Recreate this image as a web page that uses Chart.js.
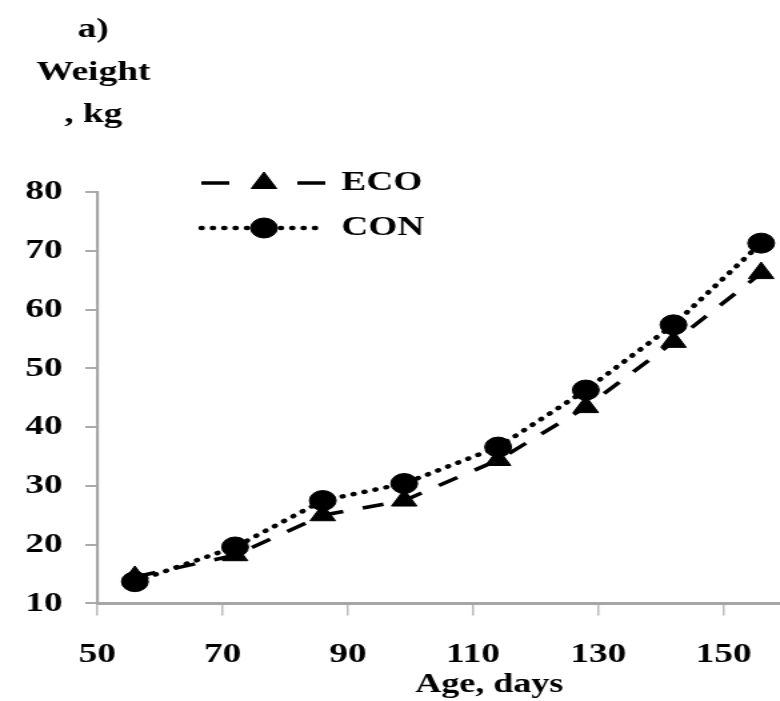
<!DOCTYPE html>
<html>
<head>
<meta charset="utf-8">
<script src="https://cdn.jsdelivr.net/npm/chart.js@4"></script>
<style>
  html, body { margin: 0; padding: 0; background: #fff; overflow: hidden; }
  /* the source figure is stretched sideways, so the chart is drawn narrow and widened */
  #wrap { width: 585px; height: 701px; transform: scaleX(1.3333); transform-origin: 0 0; }
  #weight-chart { display: block; }
</style>
</head>
<body>
<div id="wrap"><canvas id="weight-chart" width="585" height="701"></canvas></div>
<script>
const ageDays = [56, 72, 86, 99, 114, 128, 142, 156];
const ecoWeight = [14.5, 18.2, 25, 27.5, 34.4, 43.4, 54.5, 66.2];
const conWeight = [13.7, 19.6, 27.5, 30.4, 36.6, 46.3, 57.4, 71.3];
const xTicks = [50, 70, 90, 110, 130, 150];
const yTicks = [10, 20, 30, 40, 50, 60, 70, 80];
const seriesNames = ["ECO", "CON"];
const yTitleLines = ["a)", "Weight", ", kg"];
const xTitle = "Age, days";

const serif = "'Liberation Serif', 'Times New Roman', serif";

function toPoints(values) {
  return ageDays.map((d, i) => ({ x: d, y: values[i] }));
}

// legend line samples: dash pattern used only in the key
const legendDash = [[21, 51], [0.5, 8]];

const decorPlugin = {
  id: "decor",
  afterDraw(chart) {
    const ctx = chart.ctx;
    const area = chart.chartArea;
    ctx.save();
    ctx.fillStyle = "#000";

    // axis title above the y axis
    ctx.font = "bold 28px " + serif;
    ctx.textAlign = "center";
    ctx.textBaseline = "alphabetic";
    const tx = area.left - 3;
    [37, 80, 122].forEach((y, i) => ctx.fillText(yTitleLines[i], tx, y));

    // x axis title
    ctx.font = "bold 27px " + serif;
    ctx.fillText(xTitle, (area.left + area.right) / 2 + 38, 692);

    // legend: line sample, marker, label
    const rows = [183, 228];
    chart.data.datasets.forEach((ds, i) => {
      const y = rows[i];
      ctx.save();
      ctx.strokeStyle = ds.borderColor;
      ctx.lineWidth = ds.borderWidth;
      ctx.lineCap = ds.borderCapStyle || "butt";
      ctx.setLineDash(legendDash[i]);
      ctx.beginPath();
      ctx.moveTo(151, y);
      ctx.lineTo(i === 0 ? 244 : 238, y);
      ctx.stroke();
      ctx.restore();

      ctx.fillStyle = ds.pointBackgroundColor;
      ctx.strokeStyle = ds.pointBorderColor;
      Chart.helpers.drawPoint(ctx, {
        pointStyle: ds.pointStyle,
        radius: ds.pointRadius,
        rotation: 0,
        borderWidth: 1
      }, 198, y);

      ctx.fillStyle = "#000";
      ctx.font = "bold 28px " + serif;
      ctx.textAlign = "left";
      ctx.textBaseline = "middle";
      ctx.fillText(ds.label, 256, y);
    });
    ctx.restore();
  }
};

const ctxEl = document.getElementById("weight-chart");

new Chart(ctxEl, {
  type: "line",
  data: {
    datasets: [
      {
        label: seriesNames[0],
        data: toPoints(ecoWeight),
        borderColor: "#000",
        borderWidth: 3.5,
        borderDash: [16, 15],
        pointStyle: "triangle",
        pointRadius: 11,
        pointBackgroundColor: "#000",
        pointBorderColor: "#000",
        pointBorderWidth: 1,
        tension: 0,
        fill: false
      },
      {
        label: seriesNames[1],
        data: toPoints(conWeight),
        borderColor: "#000",
        borderWidth: 4.5,
        borderDash: [0.5, 8],
        borderCapStyle: "round",
        pointStyle: "circle",
        pointRadius: 10,
        pointBackgroundColor: "#000",
        pointBorderColor: "#000",
        pointBorderWidth: 1,
        tension: 0,
        fill: false
      }
    ]
  },
  options: {
    responsive: false,
    animation: false,
    clip: false,
    layout: { autoPadding: false, padding: { left: 0, right: 0, top: 192, bottom: 6 } },
    plugins: {
      legend: { display: false },
      tooltip: { enabled: false }
    },
    scales: {
      x: {
        type: "linear",
        min: 50,
        max: 159,
        afterBuildTicks: axis => { axis.ticks = xTicks.map(v => ({ value: v })); },
        afterFit: axis => { axis.paddingLeft = 0; axis.paddingRight = 0; },
        grid: { drawOnChartArea: false, drawTicks: true, tickLength: 12, color: "#bbb", lineWidth: 1.5 },
        border: { display: true, color: "#a6a6a6", width: 3 },
        ticks: {
          color: "#000",
          padding: 23,
          maxRotation: 0,
          font: { family: serif, size: 28, weight: "bold" }
        }
      },
      y: {
        min: 10,
        max: 80,
        afterBuildTicks: axis => { axis.ticks = yTicks.map(v => ({ value: v })); },
        afterFit: axis => { axis.width = 73; },
        grid: { drawOnChartArea: false, drawTicks: true, tickLength: 9, color: "#aaa", lineWidth: 2 },
        border: { display: true, color: "#a6a6a6", width: 2.2 },
        ticks: {
          color: "#000",
          padding: 17,
          font: { family: serif, size: 28, weight: "bold" }
        }
      }
    }
  },
  plugins: [decorPlugin]
});
</script>
</body>
</html>
